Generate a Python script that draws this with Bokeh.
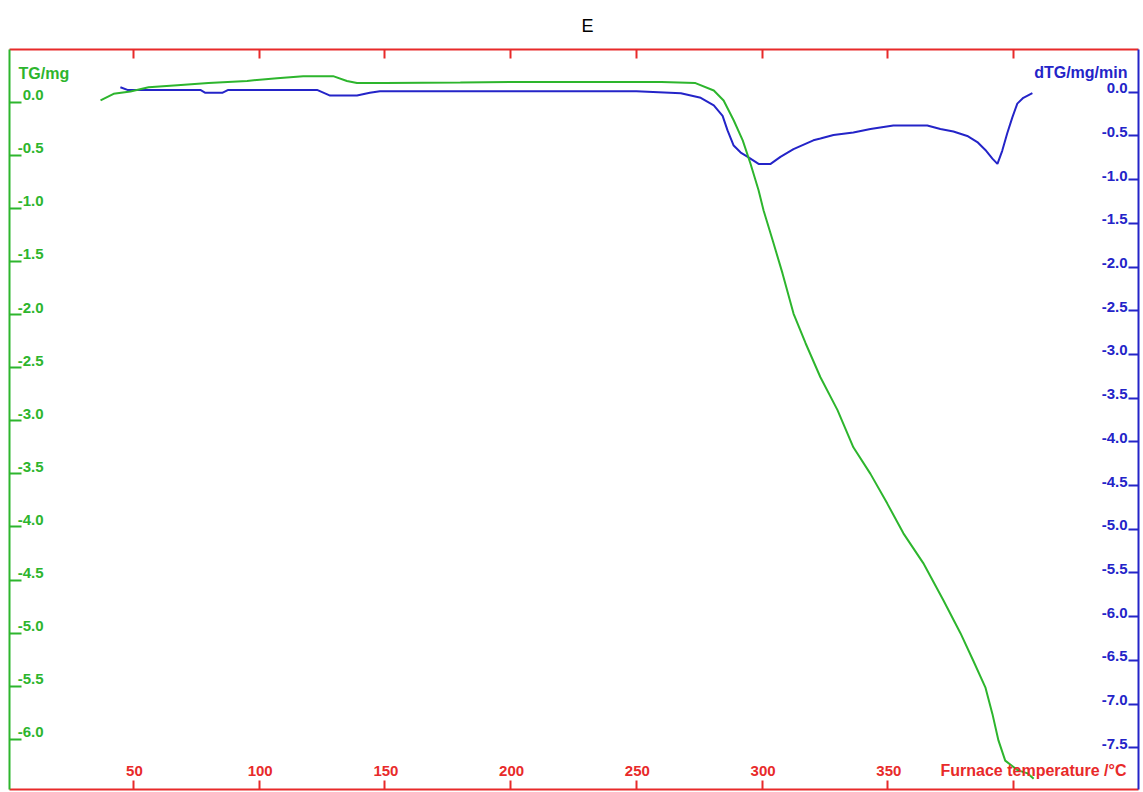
from bokeh.plotting import figure
from bokeh.models import Range1d, LinearAxis, FixedTicker, ColumnDataSource
from bokeh.core.properties import value
from bokeh.embed import file_html
from bokeh.resources import INLINE

# ---------------- data ----------------
temp_tg = [36.9, 42.1, 48.8, 56.0, 67.5, 79.8, 95.2, 107.1, 117.5, 129.4, 134.9, 138.9,
           150.0, 180.0, 200.0, 230.0, 260.0, 273.5, 280.8, 284.7, 288.7, 292.3, 295.4,
           298.6, 300.6, 304.2, 308.1, 312.5, 317.3, 323.2, 330.0, 336.3, 343.1, 349.8,
           356.2, 364.1, 372.1, 378.9, 384.0, 388.8, 391.6, 394.0, 396.7, 401.6, 405.6, 408.0]
tg_mg = [0.016, 0.079, 0.10, 0.14, 0.16, 0.18, 0.20, 0.226, 0.245, 0.245, 0.20, 0.18,
         0.18, 0.185, 0.19, 0.19, 0.19, 0.18, 0.11, 0.016, -0.17, -0.36, -0.58,
         -0.83, -1.02, -1.30, -1.61, -1.99, -2.27, -2.59, -2.90, -3.25, -3.50, -3.78,
         -4.06, -4.34, -4.69, -5.00, -5.26, -5.51, -5.76, -6.01, -6.20, -6.29, -6.32, -6.37]

temp_dtg = [44.8, 47.6, 76.6, 78.6, 85.3, 87.7, 123.0, 128.2, 138.9, 144.0, 148.0, 200.0,
            250.0, 267.7, 275.6, 280.8, 284.3, 286.3, 288.7, 291.5, 294.3, 298.6, 303.4,
            307.3, 312.5, 320.4, 323.2, 328.4, 336.3, 343.1, 352.2, 365.7, 370.9, 376.1,
            381.6, 385.6, 388.8, 391.6, 393.6, 395.5, 397.5, 399.5, 401.5, 403.9, 407.5]
dtg_mg_min = [0.057, 0.027, 0.027, -0.007, -0.007, 0.027, 0.027, -0.038, -0.038, -0.007, 0.012, 0.012,
              0.012, -0.011, -0.064, -0.15, -0.27, -0.44, -0.61, -0.69, -0.74, -0.82, -0.82,
              -0.74, -0.65, -0.55, -0.53, -0.49, -0.46, -0.42, -0.38, -0.38, -0.42, -0.45,
              -0.50, -0.57, -0.66, -0.76, -0.82, -0.67, -0.47, -0.29, -0.13, -0.064, -0.011]

x_ticks = [50, 100, 150, 200, 250, 300, 350, 400]
x_tick_labels = ["50", "100", "150", "200", "250", "300", "350"]
tg_ticks = [0.0, -0.5, -1.0, -1.5, -2.0, -2.5, -3.0, -3.5, -4.0, -4.5, -5.0, -5.5, -6.0]
tg_tick_labels = ["0.0", "-0.5", "-1.0", "-1.5", "-2.0", "-2.5", "-3.0", "-3.5", "-4.0",
                  "-4.5", "-5.0", "-5.5", "-6.0"]
dtg_ticks = [0.0, -0.5, -1.0, -1.5, -2.0, -2.5, -3.0, -3.5, -4.0, -4.5, -5.0, -5.5,
             -6.0, -6.5, -7.0, -7.5]
dtg_tick_labels = ["0.0", "-0.5", "-1.0", "-1.5", "-2.0", "-2.5", "-3.0", "-3.5", "-4.0",
                   "-4.5", "-5.0", "-5.5", "-6.0", "-6.5", "-7.0", "-7.5"]

GREEN = "#2db52d"
BLUE = "#2424c8"
RED = "#e82a2a"
FONT = value("Liberation Sans")

# ---------------- figure ----------------
p = figure(width=1143, height=792,
           x_range=Range1d(0.7, 449.7), y_range=Range1d(-6.472, 0.496),
           output_backend="svg", toolbar_location=None,
           x_axis_location=None, y_axis_location=None,
           min_border_left=9, min_border_right=5, min_border_top=49, min_border_bottom=3)
p.extra_y_ranges = {"dtg": Range1d(-7.978, 0.489)}
p.outline_line_color = None
p.background_fill_color = "white"
p.border_fill_color = "white"
p.xgrid.grid_line_color = None
p.ygrid.grid_line_color = None

p.title.text = "E"
p.title.align = "left"
p.title.offset = 572
p.title.text_font = "Liberation Sans"
p.title.text_font_style = "normal"
p.title.text_font_size = "18px"
p.title.text_color = "black"
p.title.standoff = 27


def make_axis(ticks, color, tick_in, y_range_name=None):
    kw = {}
    if y_range_name:
        kw["y_range_name"] = y_range_name
    ax = LinearAxis(ticker=FixedTicker(ticks=ticks), **kw)
    ax.axis_line_color = color
    ax.axis_line_width = 2
    ax.major_tick_line_color = color
    ax.major_tick_line_width = 2
    ax.major_tick_in = tick_in
    ax.major_tick_out = 0
    ax.minor_tick_line_color = None
    ax.major_label_text_font_size = "0px"
    ax.major_label_text_color = None
    ax.major_label_standoff = 0
    return ax


p.add_layout(make_axis(x_ticks, RED, 9), "below")
p.add_layout(make_axis(x_ticks, RED, 9), "above")
p.add_layout(make_axis(tg_ticks, GREEN, 12), "left")
p.add_layout(make_axis(dtg_ticks, BLUE, 10, "dtg"), "right")

# curves
p.line(temp_dtg, dtg_mg_min, color=BLUE, line_width=2, y_range_name="dtg")
p.line(temp_tg, tg_mg, color=GREEN, line_width=2)

x0, x1 = p.x_range.start, p.x_range.end
y0, y1 = p.y_range.start, p.y_range.end

# tick labels (inside the frame, as in the original instrument plot)
src_l = ColumnDataSource(dict(x=[x0] * len(tg_ticks), y=tg_ticks, t=tg_tick_labels))
p.text(x="x", y="y", text="t", source=src_l, x_offset=34, y_offset=-7,
       text_align="right", text_baseline="alphabetic", text_font=FONT,
       text_font_style="bold", text_font_size="15px", text_color=GREEN)

src_r = ColumnDataSource(dict(x=[x1] * len(dtg_ticks), y=dtg_ticks, t=dtg_tick_labels))
p.text(x="x", y="y", text="t", source=src_r, x_offset=-11, y_offset=-4,
       text_align="right", text_baseline="alphabetic", text_font=FONT,
       text_font_style="bold", text_font_size="15px", text_color=BLUE,
       y_range_name="dtg")

src_b = ColumnDataSource(dict(x=x_ticks[:len(x_tick_labels)], y=[y0] * len(x_tick_labels),
                              t=x_tick_labels))
p.text(x="x", y="y", text="t", source=src_b, x_offset=1, y_offset=-19,
       text_align="center", text_baseline="alphabetic", text_font=FONT,
       text_font_style="bold", text_font_size="15px", text_color=RED)

# axis titles
p.text(x=[x0], y=[y1], text=["TG/mg"], x_offset=9, y_offset=24,
       text_align="left", text_baseline="alphabetic", text_font=FONT,
       text_font_style="bold", text_font_size="16px", text_color=GREEN)
p.text(x=[x1], y=[y1], text=["dTG/mg/min"], x_offset=-11, y_offset=23,
       text_align="right", text_baseline="alphabetic", text_font=FONT,
       text_font_style="bold", text_font_size="16px", text_color=BLUE)
p.text(x=[x1], y=[y0], text=["Furnace temperature /°C"], x_offset=-12, y_offset=-19,
       text_align="right", text_baseline="alphabetic", text_font=FONT,
       text_font_style="bold", text_font_size="16px", text_color=RED)

open("out.html", "w").write(file_html(p, INLINE))
